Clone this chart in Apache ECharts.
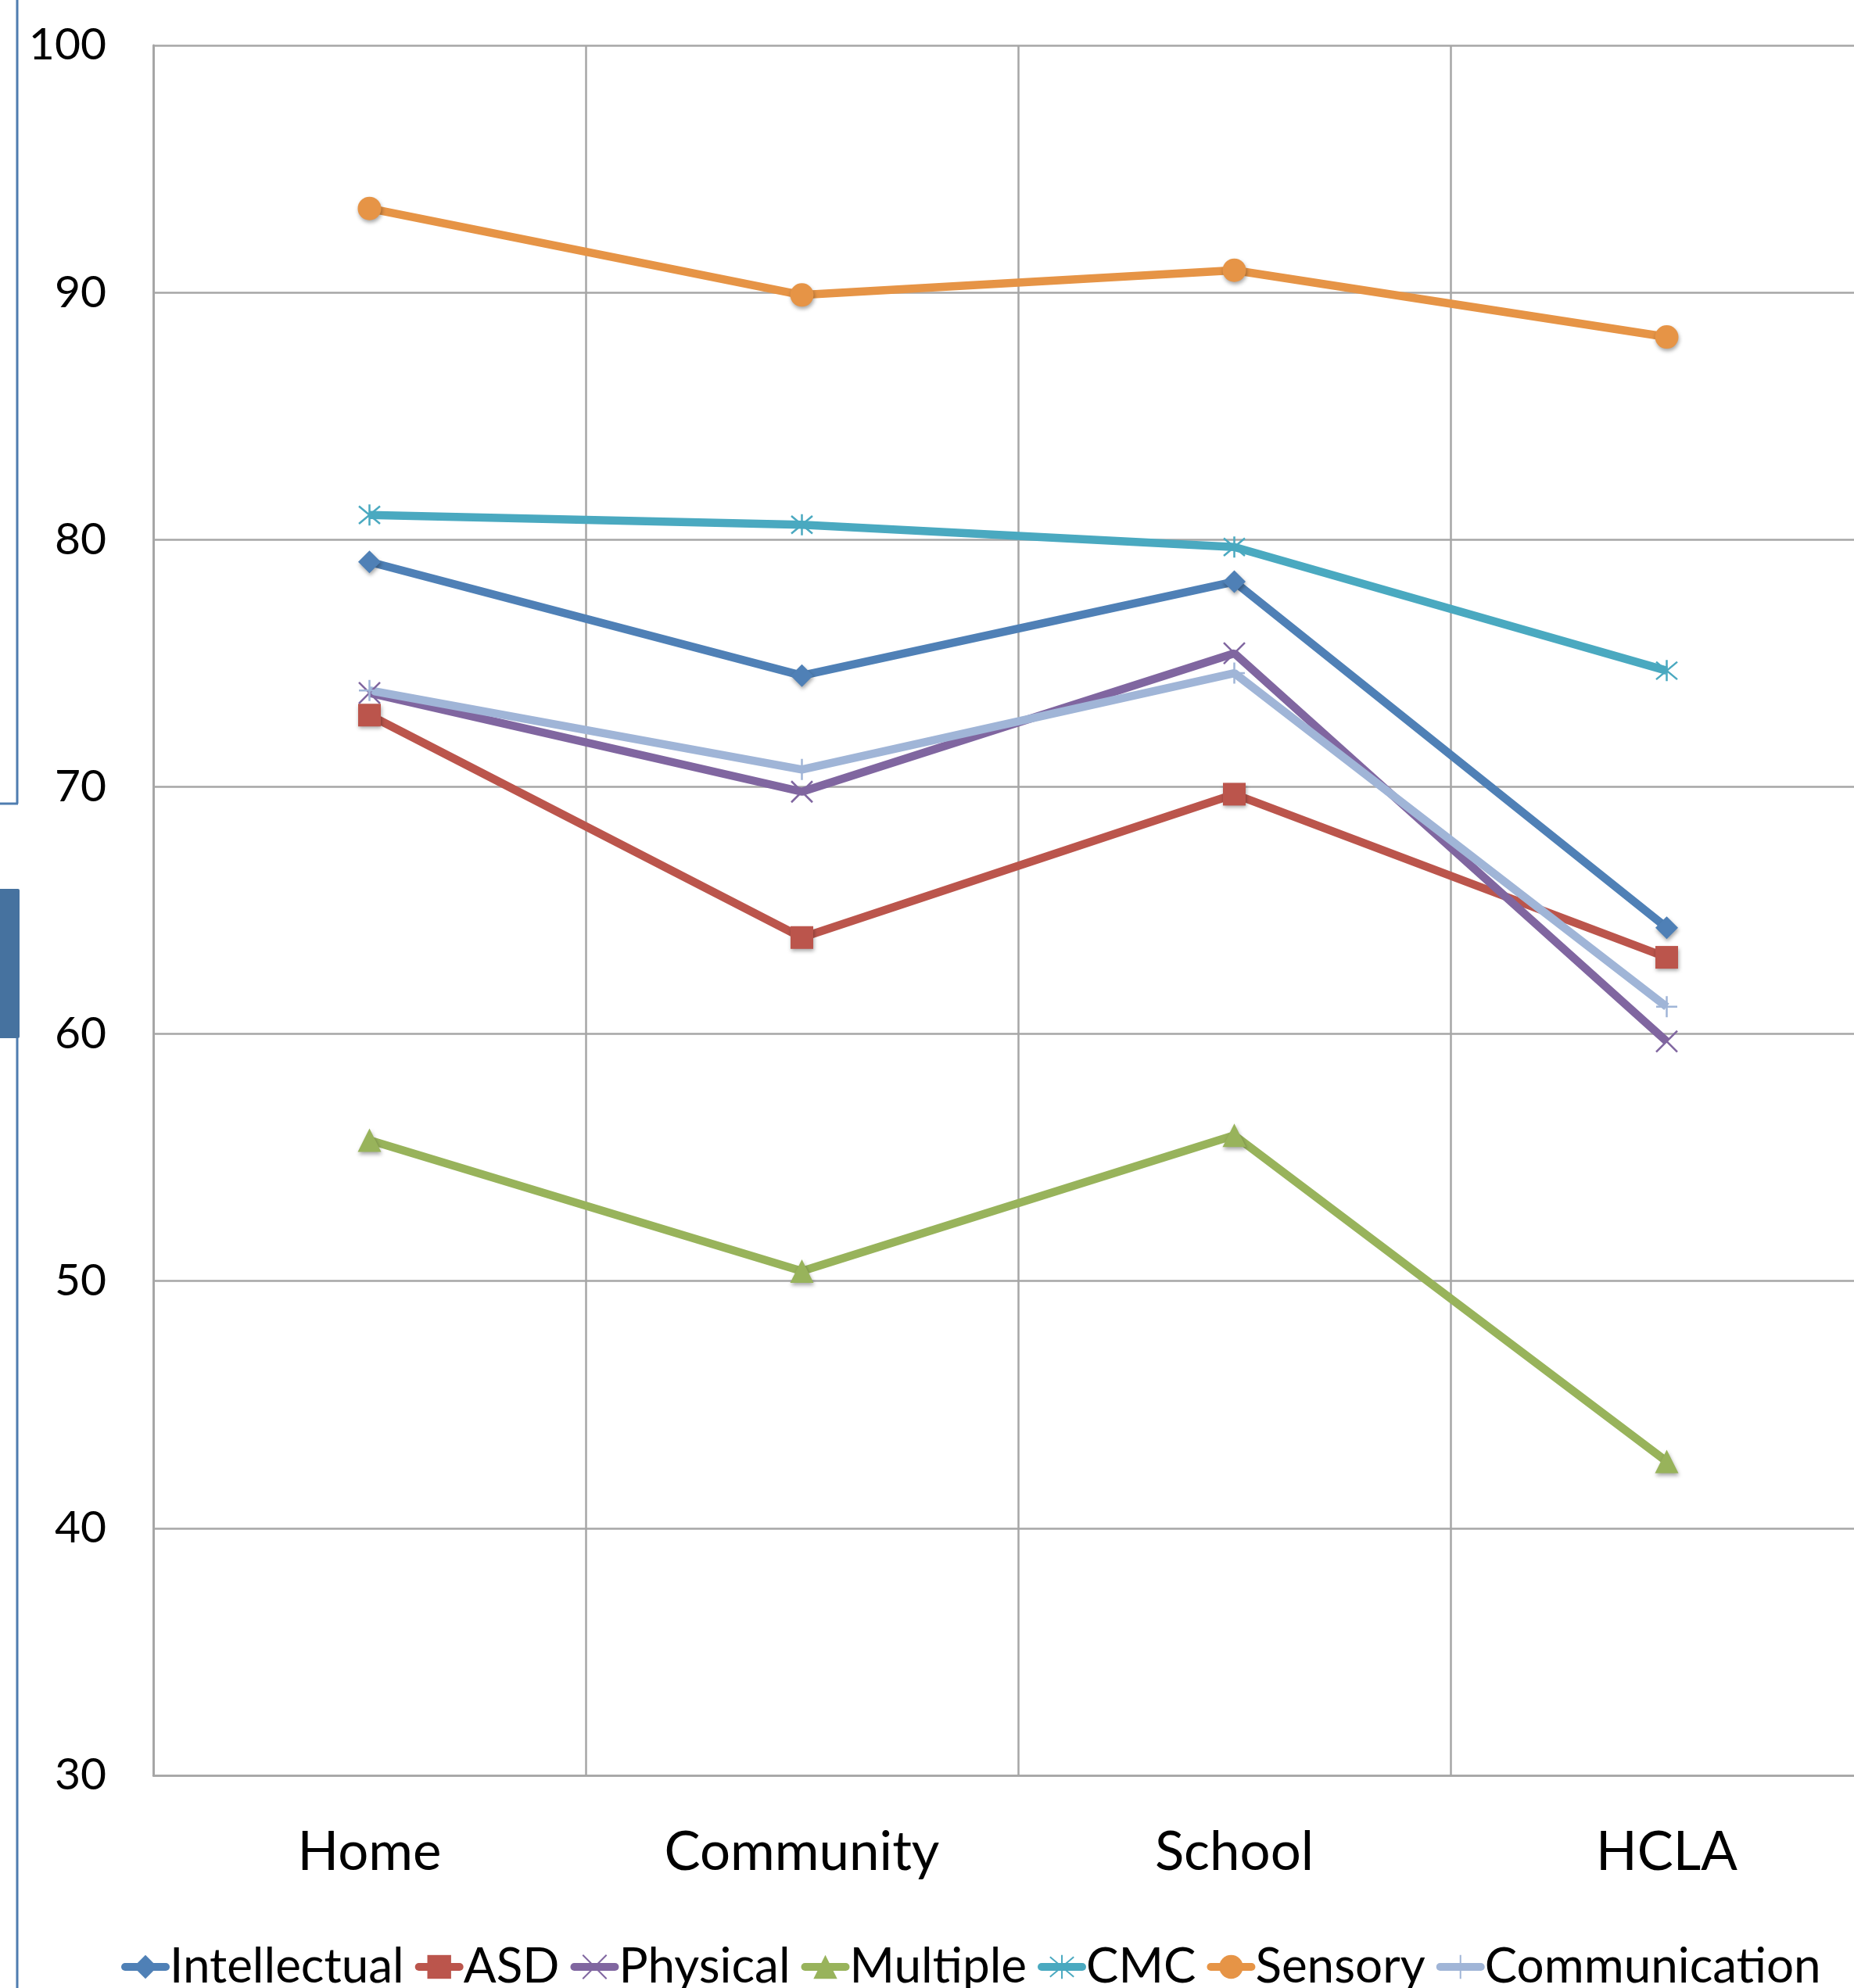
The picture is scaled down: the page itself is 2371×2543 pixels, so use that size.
<!DOCTYPE html>
<html>
<head>
<meta charset="utf-8">
<title>Settings chart</title>
<script src="https://cdn.jsdelivr.net/npm/echarts@6/dist/echarts.min.js"></script>
<style>
  html, body { margin: 0; padding: 0; background: #fff; }
  #chart { width: 2371px; height: 2543px; }
</style>
</head>
<body>
<div id="chart"></div>
<script>
const categories = ['Home', 'Community', 'School', 'HCLA'];
const yTicks = [30, 100, 10];   // min, max, interval

const intellectual  = [79.1, 74.5, 78.3, 64.3];
const asd           = [72.9, 63.9, 69.7, 63.1];
const physical      = [73.8, 69.8, 75.4, 59.7];
const multiple      = [55.7, 50.4, 55.9, 42.7];
const cmc           = [81.0, 80.6, 79.7, 74.7];
const sensory       = [93.4, 89.9, 90.9, 88.2];
const communication = [73.9, 70.7, 74.6, 61.1];

const FONT = 'Lato, "Open Sans", sans-serif';
const X_PATH = 'path://M0,0L10,10M10,0L0,10';
const STAR_PATH = 'path://M0,0L10,10M10,0L0,10M5,-1L5,11';
const PLUS_PATH = 'path://M5,0L5,10M0,5L10,5';

function mk(name, data, color, symbol, size, thin) {
  return {
    name, type: 'line', data,
    symbol, symbolSize: size,
    lineStyle: { width: 10.5, color },
    itemStyle: thin
      ? { color: 'rgba(0,0,0,0)', borderColor: color, borderWidth: 2.5 }
      : { color, shadowBlur: 5, shadowColor: 'rgba(0,0,0,0.35)', shadowOffsetX: 1, shadowOffsetY: 3 },
    emphasis: { disabled: true }
  };
}

const chart = echarts.init(document.getElementById('chart'), null, { renderer: 'canvas' });
chart.setOption({
  animation: false,
  backgroundColor: '#ffffff',
  // plot area runs past the right edge in the source picture
  grid: { left: 196, top: 58, width: 2212, height: 2213, outerBoundsMode: 'none' },
  legend: {
    left: 150, top: 2480, width: 2400,
    itemWidth: 52, itemHeight: 38, itemGap: 14,
    textStyle: { fontFamily: FONT, fontSize: 62, color: '#000' },
    lineStyle: { width: 10, cap: 'round' }
  },
  xAxis: {
    type: 'category', data: categories, boundaryGap: true,
    axisLine: { lineStyle: { color: '#a6a6a6', width: 2.5 } },
    axisTick: { show: false },
    splitLine: { show: true, lineStyle: { color: '#a6a6a6', width: 2.5 } },
    axisLabel: { fontFamily: FONT, fontSize: 69, color: '#000', margin: 64 }
  },
  yAxis: {
    type: 'value', min: yTicks[0], max: yTicks[1], interval: yTicks[2],
    axisLine: { show: true, lineStyle: { color: '#a6a6a6', width: 3 } },
    axisTick: { show: false },
    splitLine: { lineStyle: { color: '#a6a6a6', width: 2.5 } },
    axisLabel: { fontFamily: FONT, fontSize: 57, color: '#000', margin: 60 }
  },
  series: [
    mk('Intellectual', intellectual, '#4f80b6', 'diamond', 29),
    mk('ASD', asd, '#bb554c', 'rect', 29),
    mk('Physical', physical, '#8066a0', X_PATH, 27, true),
    mk('Multiple', multiple, '#98b35b', 'triangle', 30),
    mk('CMC', cmc, '#4aa9c0', STAR_PATH, 27, true),
    mk('Sensory', sensory, '#e69446', 'circle', 30),
    mk('Communication', communication, '#a0b5d7', PLUS_PATH, 27, true)
  ],
  graphic: [
    { type: 'line', shape: { x1: 22, y1: 0, x2: 22, y2: 1028 }, style: { stroke: '#4f7db0', lineWidth: 3 } },
    { type: 'line', shape: { x1: 0, y1: 1028, x2: 23, y2: 1028 }, style: { stroke: '#4f7db0', lineWidth: 3 } },
    { type: 'rect', shape: { x: 0, y: 1137, width: 25, height: 191, r: [0, 2, 2, 0] }, style: { fill: '#46729f' } },
    { type: 'line', shape: { x1: 22, y1: 1328, x2: 22, y2: 2543 }, style: { stroke: '#4f7db0', lineWidth: 3 } }
  ]
});
</script>
</body>
</html>
